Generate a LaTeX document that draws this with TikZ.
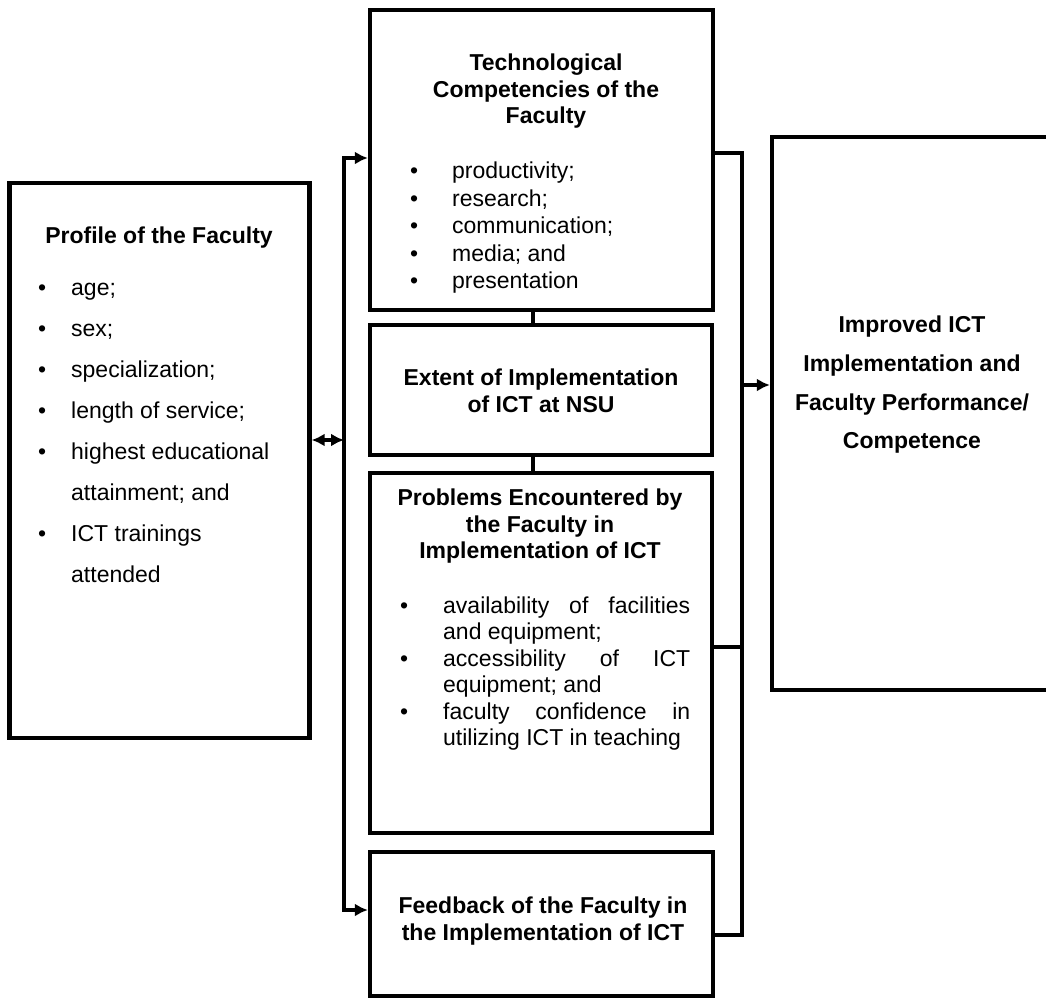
\documentclass[tikz,border=0pt]{standalone}
\usepackage{fontspec}
\setmainfont{Liberation Sans}
\usepackage{array}
\usetikzlibrary{arrows.meta}
\hyphenpenalty=10000
\newcommand{\dotitem}{\textbullet}

\tikzset{
  box/.style={draw, line width=4.3pt, inner sep=0pt},
  link/.style={line width=4.3pt},
  head/.style={inner sep=0pt, align=center, font=\fontsize{23}{26.5}\selectfont\bfseries},
  txt/.style={inner sep=0pt, font=\fontsize{23}{26.5}\selectfont},
}

\begin{document}
\begin{tikzpicture}[x=1pt,y=-1pt,>={Latex[length=13pt,width=13pt]}]
\useasboundingbox (0,0) rectangle (1046,998);
\clip (0,0) rectangle (1046,998);
% boxes
\node[box, minimum width=300pt, minimum height=555pt] (prof) at (159.5,460.5) {};
\node[box, minimum width=343pt, minimum height=300pt] (tech) at (541.5,160) {};
\node[box, minimum width=342pt, minimum height=130pt] (ext) at (541,390) {};
\node[box, minimum width=342pt, minimum height=360pt] (prob) at (541,653) {};
\node[box, minimum width=343pt, minimum height=144pt] (feed) at (541.5,924) {};
\node[box, minimum width=288pt, minimum height=553pt] (res) at (916,413.5) {};

% texts
\node[head, anchor=north] (profT) at (159,227) {Profile of the Faculty};
\node[txt, anchor=north west] (profL) at (38,267) {\def\arraystretch{1.547}%
\begin{tabular}{@{}p{33pt}@{}l@{}}
\dotitem & age;\\
\dotitem & sex;\\
\dotitem & specialization;\\
\dotitem & length of service;\\
\dotitem & highest educational\\
 & attainment; and\\
\dotitem & ICT trainings\\
 & attended
\end{tabular}};
\node[head, anchor=north] (techT) at (546,54) {Technological\\Competencies of the\\Faculty};
\node[txt, anchor=north west] (techL) at (410,159) {\def\arraystretch{1.04}%
\begin{tabular}{@{}p{42pt}@{}l@{}}
\dotitem & productivity;\\
\dotitem & research;\\
\dotitem & communication;\\
\dotitem & media; and\\
\dotitem & presentation
\end{tabular}};
\node[head, anchor=north] (extT) at (541,369) {Extent of Implementation\\of ICT at NSU};
\node[head, anchor=north] (probT) at (540,489) {Problems Encountered by\\the Faculty in\\Implementation of ICT};
\node[txt, anchor=north west] (probL) at (400,594.5) {%
\begin{tabular}{@{}p{43pt}@{}p{247pt}@{}}
\dotitem & availability of facilities and equipment;\\
\dotitem & accessibility of ICT equipment; and\\
\dotitem & faculty confidence in utilizing ICT in teaching
\end{tabular}};
\node[head, anchor=north] (feedT) at (543,897) {Feedback of the Faculty in\\the Implementation of ICT};
\node[head, anchor=north, font=\fontsize{23}{38.7}\selectfont\bfseries] (resT) at (912,316)
  {Improved ICT\\Implementation and\\Faculty Performance/\\Competence};

% left bus
\coordinate (ltop) at (344,158);
\coordinate (lmid) at (344,440);
\coordinate (lbot) at (344,910);
\draw[link, <->] (tech.west |- ltop) -- (ltop) -- (lbot) -- (feed.west |- lbot);
\draw[link, <->] (prof.east |- lmid) -- (lmid);

% middle column
\coordinate (cx) at (533,0);
\draw[link] (tech.south -| cx) -- (ext.north -| cx);
\draw[link] (ext.south -| cx) -- (prob.north -| cx);

% right bus
\coordinate (rtop) at (742,153);
\coordinate (rprob) at (742,647);
\coordinate (rmid) at (742,385);
\coordinate (rbot) at (742,935);
\draw[link] (tech.east |- rtop) -- (rtop) -- (rbot) -- (feed.east |- rbot);
\draw[link] (prob.east |- rprob) -- (rprob);
\draw[link, ->] (rmid) -- (res.west |- rmid);
\end{tikzpicture}
\end{document}
